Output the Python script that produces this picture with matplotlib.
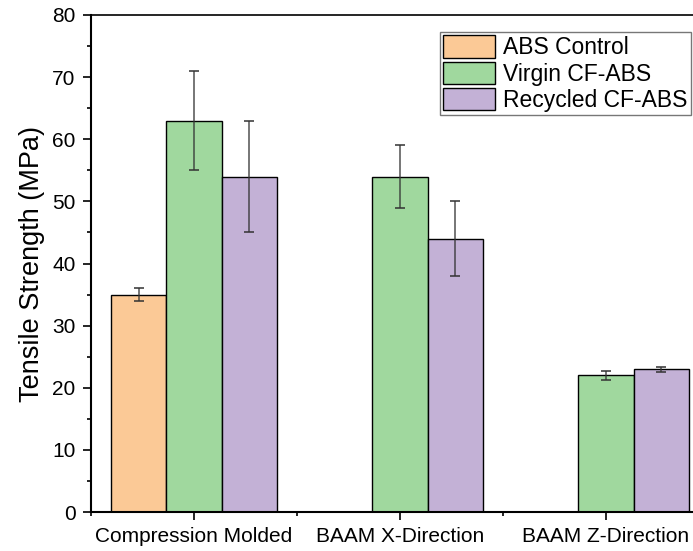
import numpy as np
import matplotlib.pyplot as plt
from matplotlib.ticker import MultipleLocator, FixedLocator

plt.rcParams['font.family'] = ['Liberation Sans', 'DejaVu Sans']

categories = ['Compression Molded', 'BAAM X-Direction', 'BAAM Z-Direction']
series = ['ABS Control', 'Virgin CF-ABS', 'Recycled CF-ABS']

abs_control = [35, np.nan, np.nan]
abs_control_err = [1.0, np.nan, np.nan]
virgin_cf = [63, 54, 22]
virgin_cf_err = [8, 5, 0.7]
recycled_cf = [54, 44, 23]
recycled_cf_err = [9, 6, 0.4]

colors = ['#fbc996', '#a0d89e', '#c3b1d6']

fig = plt.figure(figsize=(6.93, 5.51), dpi=100)
# axes run past the right edge, like the cropped original
ax = fig.add_axes([91 / 693, 39 / 551, 618 / 693, 497 / 551])

x = np.arange(1, len(categories) + 1)
w = 0.267
handles = []
for k, (vals, errs) in enumerate([(abs_control, abs_control_err),
                                  (virgin_cf, virgin_cf_err),
                                  (recycled_cf, recycled_cf_err)]):
    vals = np.asarray(vals, float)
    errs = np.asarray(errs, float)
    ok = ~np.isnan(vals)
    b = ax.bar(x[ok] + (k - 1) * w, vals[ok], width=w, color=colors[k],
               edgecolor='black', linewidth=1.0, label=series[k],
               yerr=errs[ok], capsize=3.8,
               error_kw=dict(ecolor='#333333', elinewidth=1.1, capthick=1.3, alpha=0.85))
    handles.append(b)

ax.set_xlim(0.5, 3.5)
ax.set_ylim(0, 80)
ax.set_xticks(x)
ax.set_xticklabels(categories, fontsize=15)
ax.xaxis.set_minor_locator(FixedLocator([0.5, 1.5, 2.5, 3.5]))
ax.yaxis.set_major_locator(MultipleLocator(10))
ax.yaxis.set_minor_locator(MultipleLocator(5))
ax.tick_params(axis='both', which='major', length=6, width=1.2, direction='out')
ax.tick_params(axis='both', which='minor', length=3, width=1.2, direction='out')
ax.tick_params(axis='y', labelsize=15, pad=5)
ax.tick_params(axis='x', pad=5)
for s in ax.spines.values():
    s.set_linewidth(1.5)
ax.spines['top'].set_linewidth(1.2)

ax.set_ylabel('Tensile Strength (MPa)', fontsize=19.5, labelpad=5)

leg = fig.legend(handles=handles, loc='upper left',
                 bbox_to_anchor=(440 / 693, 1 - 32 / 551), fontsize=16.5,
                 frameon=True, fancybox=False, borderpad=0.15, labelspacing=0.1,
                 handlelength=2.27, handleheight=1.13, handletextpad=0.35,
                 borderaxespad=0)
leg.get_frame().set_edgecolor('#555555')
leg.get_frame().set_linewidth(1.0)

fig.savefig('out.png', dpi=100)
